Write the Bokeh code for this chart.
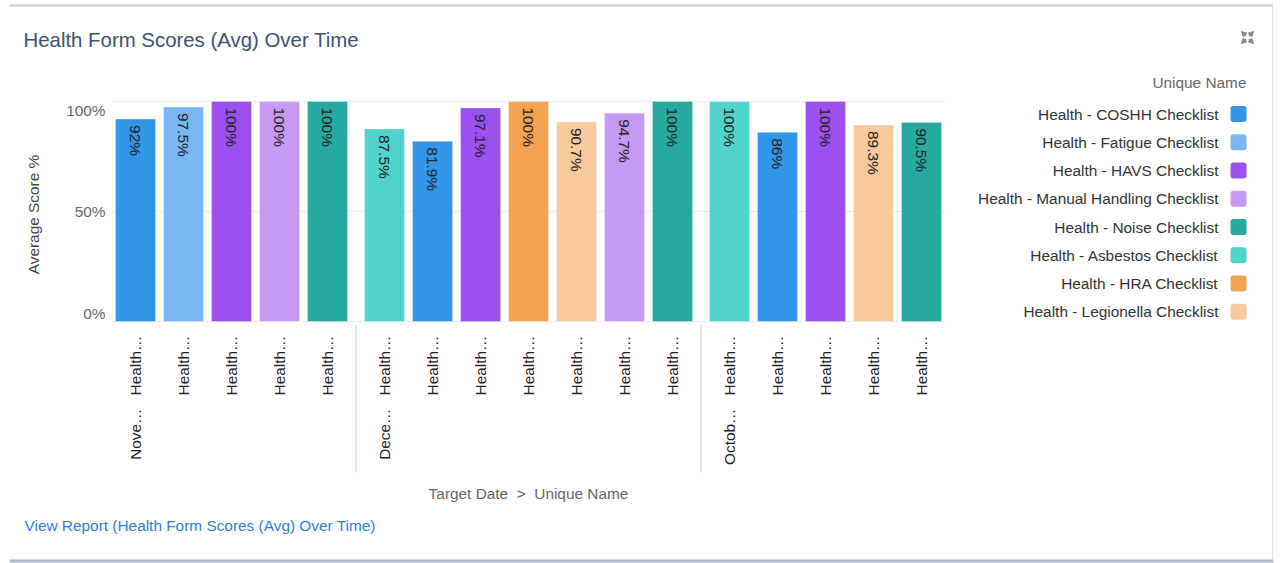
import math
from bokeh.plotting import figure
from bokeh.layouts import row, column
from bokeh.models import (FactorRange, Range1d, Arrow, NormalHead, ColumnDataSource)
from bokeh.core.properties import value
from bokeh.embed import file_html
from bokeh.resources import INLINE

# ---------------- data ----------------
title_text = "Health Form Scores (Avg) Over Time"
y_title = "Average Score %"
x_title = "Target Date\u00a0 >\u00a0 Unique Name"
link_text = "View Report (Health Form Scores (Avg) Over Time)"
legend_title = "Unique Name"

months = ["November", "December", "October"]
month_labels = ["Nove\u2026", "Dece\u2026", "Octob\u2026"]
sub_label = "Health\u2026"

forms_nov = ["Health - COSHH Checklist", "Health - Fatigue Checklist", "Health - HAVS Checklist",
             "Health - Manual Handling Checklist", "Health - Noise Checklist"]
scores_nov = [92, 97.5, 100, 100, 100]

forms_dec = ["Health - Asbestos Checklist", "Health - COSHH Checklist", "Health - HAVS Checklist",
             "Health - HRA Checklist", "Health - Legionella Checklist",
             "Health - Manual Handling Checklist", "Health - Noise Checklist"]
scores_dec = [87.5, 81.9, 97.1, 100, 90.7, 94.7, 100]

forms_oct = ["Health - Asbestos Checklist", "Health - COSHH Checklist", "Health - HAVS Checklist",
             "Health - Legionella Checklist", "Health - Noise Checklist"]
scores_oct = [100, 86, 100, 89.3, 90.5]

legend_names = ["Health - COSHH Checklist", "Health - Fatigue Checklist", "Health - HAVS Checklist",
                "Health - Manual Handling Checklist", "Health - Noise Checklist",
                "Health - Asbestos Checklist", "Health - HRA Checklist", "Health - Legionella Checklist"]
legend_colors = ["#3395e8", "#7ab8f5", "#9d50f0", "#c69af2", "#26a9a1", "#4fd3cc", "#f5a352", "#f8c99a"]

y_ticks = [0, 50, 100]
y_tick_labels = ["0%", "50%", "100%"]

# ---------------- layout constants (canvas px) ----------------
W, H = 1281, 563
L, R = 111, 945            # bar area
T1, B1 = 60, 480           # middle band
SLOT = 48                  # px per category slot
PX_PER_UNIT = 2.2          # 100% = 220 px
ZERO_Y = 321               # canvas y of 0%
FONT = "Liberation Sans"
FS = "15.4px"
BORDER_R = 1272

color_of = dict(zip(legend_names, legend_colors))
groups = [(months[0], forms_nov, scores_nov), (months[1], forms_dec, scores_dec),
          (months[2], forms_oct, scores_oct)]

factors, tops, colors, labels = [], [], [], []
for m, forms, scores in groups:
    for f, s in zip(forms, scores):
        factors.append((m, f))
        tops.append(s)
        colors.append(color_of[f])
        labels.append(f"{s:g}%")

group_pad = 9 / SLOT
value_range = Range1d(-(B1 - ZERO_Y) / PX_PER_UNIT, (ZERO_Y - T1) / PX_PER_UNIT)


def make_fig(width, height, x_range, y_range):
    f = figure(width=width, height=height, title=None, x_range=x_range, y_range=y_range,
               x_axis_location=None, y_axis_location=None,
               output_backend="svg", toolbar_location=None,
               min_border=0, min_border_left=0, min_border_right=0,
               min_border_top=0, min_border_bottom=0)
    f.grid.visible = False
    f.outline_line_color = None
    f.background_fill_color = "white"
    f.border_fill_color = "white"
    return f


def txt(fig, text, x, y, size=FS, color="#333333", align="left", baseline="middle",
        angle=0, yr="default"):
    fig.text(x=[x], y=[y], text=[text], y_range_name=yr, angle=angle,
             text_font=value(FONT), text_font_size=size, text_color=color,
             text_align=align, text_baseline=baseline)


def right_border(fig, y0, y1):
    fig.quad(left=BORDER_R - 0.5, right=BORDER_R + 0.5, top=y0, bottom=y1,
             fill_color="#dfe3e8", line_color=None)


# ---------------- top band ----------------
tp = make_fig(W, T1, Range1d(0, W), Range1d(T1, 0))
tp.quad(left=9, right=BORDER_R + 0.5, top=4, bottom=6, fill_color="#bfcde0", line_color=None)
right_border(tp, 4, T1)
txt(tp, title_text, 23, 39.5, size="20.4px", color="#3e5270")
ix, iy = 1247, 37
for dx, dy in [(1, 1), (1, -1), (-1, 1), (-1, -1)]:
    tp.add_layout(Arrow(x_start=ix + 1.5 * dx, y_start=iy + 1.5 * dy,
                        x_end=ix + 6 * dx, y_end=iy + 6 * dy,
                        line_color="#8a8a8a", line_width=1.5,
                        end=NormalHead(size=5, fill_color="#8a8a8a", line_color="#8a8a8a")))

# ---------------- left (y axis) ----------------
lf = make_fig(L, B1 - T1, Range1d(0, L), value_range)
lf.extra_y_ranges = {"px": Range1d(B1, T1)}
for t, tl, bl in zip(y_ticks, y_tick_labels, ["bottom", "middle", "top"]):
    txt(lf, tl, 105, t, color="#666666", align="right", baseline=bl)
txt(lf, y_title, 33, 214, color="#444444", align="center", angle=math.pi / 2, yr="px")

# ---------------- chart ----------------
ch = make_fig(R - L, B1 - T1,
              FactorRange(*factors, factor_padding=0, group_padding=group_pad, range_padding=0),
              value_range)
ch.extra_y_ranges = {"px": Range1d(B1, T1)}

gx0 = (factors[0][0], factors[0][1], -0.5)
gx1 = (factors[-1][0], factors[-1][1], 0.5)
ch.segment(x0=[gx0] * len(y_ticks), x1=[gx1] * len(y_ticks), y0=y_ticks, y1=y_ticks,
           line_color="#e9edf3", line_width=1)

src = ColumnDataSource(dict(x=factors, top=tops, color=colors, label=labels))
ch.vbar(x="x", top="top", bottom=0, width=40 / SLOT, source=src,
        fill_color="color", line_color="white", line_alpha=0.3, line_width=1)
ch.text(x="x", y="top", text="label", source=src, angle=-math.pi / 2,
        text_align="left", text_baseline="middle", y_offset=6,
        text_font=value(FONT), text_font_size=FS, text_color="#222222")

ch.text(x="x", y=335, text=value(sub_label), source=src, y_range_name="px",
        angle=math.pi / 2, text_align="right", text_baseline="middle",
        text_font=value(FONT), text_font_size=FS, text_color="#222222")

first_factors = [(m, forms[0]) for m, forms, _ in groups]
ch.text(x=first_factors, y=408, text=month_labels, y_range_name="px",
        angle=math.pi / 2, text_align="right", text_baseline="middle",
        text_font=value(FONT), text_font_size=FS, text_color="#222222")

sep_x = [(m, forms[-1], 0.5 + group_pad / 2) for m, forms, _ in groups[:-1]]
ch.segment(x0=sep_x, x1=sep_x, y0=325, y1=472, y_range_name="px",
           line_color="#e2e7ef", line_width=2)

# ---------------- right (legend) ----------------
rt = make_fig(W - R, B1 - T1, Range1d(R, W), Range1d(B1, T1))
right_border(rt, T1, B1)
txt(rt, legend_title, 1246, 82, color="#666666", align="right")
for i, (name, col) in enumerate(zip(legend_names, legend_colors)):
    yc = 113.5 + i * 28.25
    txt(rt, name, 1218, yc, color="#333333", align="right")
    rt.quad(left=1230, right=1246, top=yc - 8, bottom=yc + 8,
            fill_color=col, line_color=None, border_radius=3)

# ---------------- bottom band ----------------
bt = make_fig(W, H - B1, Range1d(0, W), Range1d(H, B1))
right_border(bt, B1, 560)
bt.quad(left=9, right=BORDER_R + 1, top=559, bottom=562, fill_color="#adb9c8", line_color=None)
txt(bt, x_title, 528, 493, color="#666666", align="center")
txt(bt, link_text, 24, 525, color="#2d7fd6")

layout = column(tp, row(lf, ch, rt, spacing=0), bt, spacing=0)
open("out.html", "w").write(file_html(layout, INLINE))
